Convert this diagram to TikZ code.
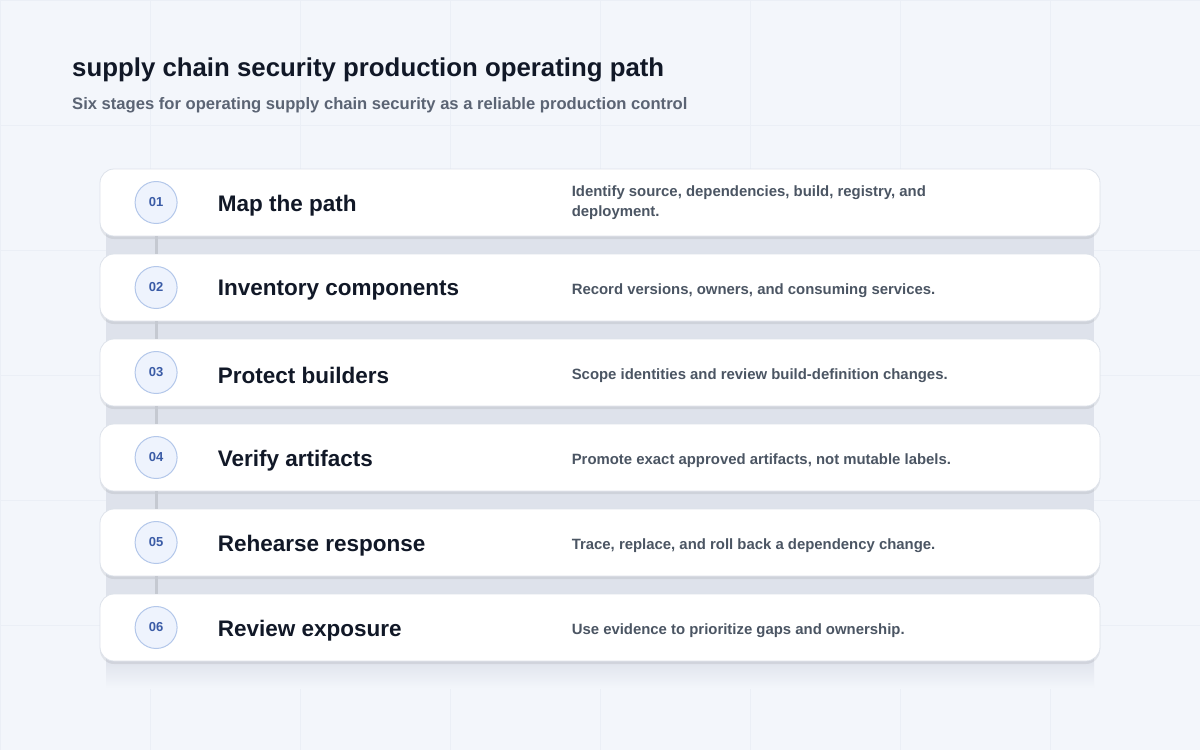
\documentclass[tikz,border=0pt]{standalone}
\usepackage{fontspec}
\setmainfont{Liberation Sans}
\usepackage{xcolor}
\usetikzlibrary{positioning, shadows}

\definecolor{pagebg}{HTML}{F3F6FB}
\definecolor{gridc}{HTML}{EBEFF6}
\definecolor{ink}{HTML}{111827}
\definecolor{subink}{HTML}{5B6474}
\definecolor{descink}{HTML}{4B5563}
\definecolor{numfill}{HTML}{EEF3FD}
\definecolor{numline}{HTML}{B3C7EA}
\definecolor{numink}{HTML}{3A5BA6}
\definecolor{railc}{HTML}{C5C9D1}
\definecolor{cardline}{HTML}{DDE2EA}
\definecolor{panelc}{HTML}{DEE2EB}

\begin{document}
\begin{tikzpicture}[
    x=1pt, y=-1pt,
    node distance=17.2pt,
    card/.style={rectangle, rounded corners=14pt, draw=cardline, line width=0.8pt, fill=white, minimum width=1000pt, minimum height=67pt, inner sep=0pt,
        drop shadow={shadow xshift=0pt, shadow yshift=-3pt, fill=black, opacity=0.07}},
    num/.style={circle, draw=numline, line width=1pt, fill=numfill, minimum size=42pt, inner sep=0pt, text=numink, font=\fontsize{13}{14}\selectfont\bfseries},
    stage/.style={anchor=west, inner sep=0pt, text=ink, font=\fontsize{22.5}{26}\selectfont\bfseries},
    desc/.style={anchor=west, inner sep=0pt, align=left, text=descink, font=\fontsize{14.9}{20}\selectfont\bfseries},
    rail/.style={draw=railc, line width=3pt}
]
\useasboundingbox (0,0) rectangle (1200,750);

% Background
\fill[pagebg] (0,0) rectangle (1200,750);
\draw[gridc, line width=0.6pt, xstep=150pt, ystep=125pt] (0,0) grid (1200,750);
\fill[panelc] (106,190) rectangle (1094,660);
\shade[top color=panelc, bottom color=pagebg] (106,659) rectangle (1094,688);

% Heading
\node[anchor=west, inner sep=0pt, text=ink, font=\fontsize{25.8}{30}\selectfont\bfseries] (title) at (72,70) {supply chain security production operating path};
\node[anchor=west, inner sep=0pt, text=subink, font=\fontsize{16.6}{20}\selectfont\bfseries] (subtitle) at (72,105) {Six stages for operating supply chain security as a reliable production control};

% Cards
\node[card] (card1) at (600,202.5) {};
\node[card, below=of card1] (card2) {};
\node[card, below=of card2] (card3) {};
\node[card, below=of card3] (card4) {};
\node[card, below=of card4] (card5) {};
\node[card, below=of card5] (card6) {};

% Step numbers
\node[num, right=35pt of card1.west] (n1) {01};
\node[num, right=35pt of card2.west] (n2) {02};
\node[num, right=35pt of card3.west] (n3) {03};
\node[num, right=35pt of card4.west] (n4) {04};
\node[num, right=35pt of card5.west] (n5) {05};
\node[num, right=35pt of card6.west] (n6) {06};

% Stage names
\node[stage, right=118pt of card1.west, yshift=-3pt] (s1) {Map the path};
\node[stage, right=118pt of card2.west, yshift=-3pt] (s2) {Inventory components};
\node[stage, right=118pt of card3.west, yshift=-3pt] (s3) {Protect builders};
\node[stage, right=118pt of card4.west, yshift=-3pt] (s4) {Verify artifacts};
\node[stage, right=118pt of card5.west, yshift=-3pt] (s5) {Rehearse response};
\node[stage, right=118pt of card6.west, yshift=-3pt] (s6) {Review exposure};

% Descriptions
\node[desc, right=472pt of card1.west] (d1) {Identify source, dependencies, build, registry, and\\deployment.};
\node[desc, right=472pt of card2.west, yshift=-3pt] (d2) {Record versions, owners, and consuming services.};
\node[desc, right=472pt of card3.west, yshift=-3pt] (d3) {Scope identities and review build-definition changes.};
\node[desc, right=472pt of card4.west, yshift=-3pt] (d4) {Promote exact approved artifacts, not mutable labels.};
\node[desc, right=472pt of card5.west, yshift=-3pt] (d5) {Trace, replace, and roll back a dependency change.};
\node[desc, right=472pt of card6.west, yshift=-3pt] (d6) {Use evidence to prioritize gaps and ownership.};

% Rail between stages
\draw[rail] (card1.south -| n1) -- (card2.north -| n2);
\draw[rail] (card2.south -| n2) -- (card3.north -| n3);
\draw[rail] (card3.south -| n3) -- (card4.north -| n4);
\draw[rail] (card4.south -| n4) -- (card5.north -| n5);
\draw[rail] (card5.south -| n5) -- (card6.north -| n6);

\end{tikzpicture}
\end{document}
